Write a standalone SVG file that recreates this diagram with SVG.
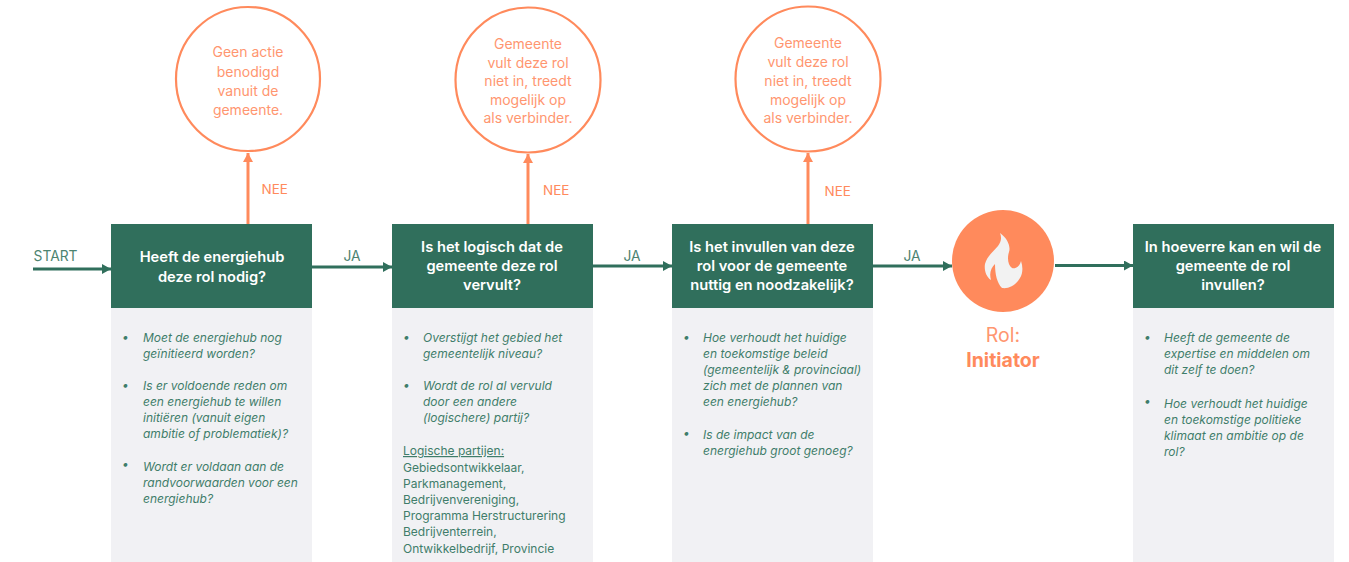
<svg xmlns="http://www.w3.org/2000/svg" width="1349" height="562" viewBox="0 0 1349 562">
<style>
text{font-family:Inter,"Liberation Sans",sans-serif}
.hd{fill:#306f5c}.bd{fill:#f1f1f4}
.ht{fill:#fff;font-size:14.700px;font-weight:600;text-anchor:middle}
.q{fill:#3f7d6a;font-size:12px;font-style:italic}
.b{fill:#3f7d6a;font-size:12px}
.l{fill:#4c8370;font-size:13.800px;text-anchor:middle}
.nee{fill:#ff8a5c;font-size:13.500px}
.c{fill:#fff;stroke:#ff8a5c;stroke-width:2.2}
.ct{fill:#ff9670;font-size:14px;text-anchor:middle}
.g{stroke:#306f5c;stroke-width:3;fill:none;marker-end:url(#ga)}
.o{stroke:#ff8a5c;stroke-width:3;fill:none;marker-end:url(#oa)}
</style>
<defs>
<marker id="ga" markerUnits="userSpaceOnUse" markerWidth="10" markerHeight="12" refX="9" refY="5" orient="auto"><path d="M0 0L9 5L0 10Z" fill="#306f5c"/></marker>
<marker id="oa" markerUnits="userSpaceOnUse" markerWidth="10" markerHeight="12" refX="9" refY="5" orient="auto"><path d="M0 0L9 5L0 10Z" fill="#ff8a5c"/></marker>
</defs>
<g id="connectors">
<path class="g" d="M33 269H111"/>
<path class="g" d="M312 267H392"/>
<path class="g" d="M593 266H672"/>
<path class="g" d="M873 266H952"/>
<path class="g" d="M1055 265.500H1133"/>
<path class="o" d="M248 224V153"/>
<path class="o" d="M528 224V154"/>
<path class="o" d="M808 224V153"/>
</g>
<g id="labels">
<text class="l" x="55.500" y="260.500">START</text>
<text class="l" x="352" y="261">JA</text>
<text class="l" x="632" y="261">JA</text>
<text class="l" x="912" y="261">JA</text>
<text class="nee" x="261.500" y="194">NEE</text>
<text class="nee" x="543" y="195">NEE</text>
<text class="nee" x="824.500" y="196">NEE</text>
</g>
<g id="node-q1">
<rect class="bd" x="111" y="308" width="201" height="254"/><rect class="hd" x="111" y="224" width="201" height="84"/>
<text class="ht"><tspan x="212" y="262">Heeft de energiehub</tspan><tspan x="212" y="282">deze rol nodig?</tspan></text>
<text class="q" x="122" y="341">•</text>
<text class="q"><tspan x="143" y="342">Moet de energiehub nog</tspan><tspan x="143" y="358">geïnitieerd worden?</tspan></text>
<text class="q" x="122" y="389">•</text>
<text class="q"><tspan x="143" y="390">Is er voldoende reden om</tspan><tspan x="143" y="406">een energiehub te willen</tspan><tspan x="143" y="422">initiëren (vanuit eigen</tspan><tspan x="143" y="438">ambitie of problematiek)?</tspan></text>
<text class="q" x="122" y="468">•</text>
<text class="q"><tspan x="143" y="471">Wordt er voldaan aan de</tspan><tspan x="143" y="487">randvoorwaarden voor een</tspan><tspan x="143" y="503">energiehub?</tspan></text>
</g>
<g id="node-q2">
<rect class="bd" x="392" y="308" width="201" height="254"/><rect class="hd" x="392" y="224" width="201" height="84"/>
<text class="ht"><tspan x="492" y="252">Is het logisch dat de</tspan><tspan x="492" y="271">gemeente deze rol</tspan><tspan x="492" y="290">vervult?</tspan></text>
<text class="q" x="403" y="341">•</text>
<text class="q"><tspan x="423" y="342">Overstijgt het gebied het</tspan><tspan x="423" y="358">gemeentelijk niveau?</tspan></text>
<text class="q" x="403" y="389">•</text>
<text class="q"><tspan x="423" y="390">Wordt de rol al vervuld</tspan><tspan x="423" y="406">door een andere</tspan><tspan x="423" y="422">(logischere) partij?</tspan></text>
<text class="b" x="403" y="455" text-decoration="underline">Logische partijen:</text>
<text class="b"><tspan x="403" y="472">Gebiedsontwikkelaar,</tspan><tspan x="403" y="488">Parkmanagement,</tspan><tspan x="403" y="504">Bedrijvenvereniging,</tspan><tspan x="403" y="520">Programma Herstructurering</tspan><tspan x="403" y="536">Bedrijventerrein,</tspan><tspan x="403" y="553">Ontwikkelbedrijf, Provincie</tspan></text>
</g>
<g id="node-q3">
<rect class="bd" x="672" y="308" width="201" height="254"/><rect class="hd" x="672" y="224" width="201" height="84"/>
<text class="ht"><tspan x="772" y="252">Is het invullen van deze</tspan><tspan x="772" y="271">rol voor de gemeente</tspan><tspan x="772" y="290">nuttig en noodzakelijk?</tspan></text>
<text class="q" x="683" y="341">•</text>
<text class="q"><tspan x="703" y="342">Hoe verhoudt het huidige</tspan><tspan x="703" y="358">en toekomstige beleid</tspan><tspan x="703" y="374">(gemeentelijk &amp; provinciaal)</tspan><tspan x="703" y="390">zich met de plannen van</tspan><tspan x="703" y="406">een energiehub?</tspan></text>
<text class="q" x="683" y="437">•</text>
<text class="q"><tspan x="703" y="439">Is de impact van de</tspan><tspan x="703" y="455">energiehub groot genoeg?</tspan></text>
</g>
<g id="node-q4">
<rect class="bd" x="1133" y="308" width="201" height="254"/><rect class="hd" x="1133" y="224" width="201" height="84"/>
<text class="ht"><tspan x="1233" y="252">In hoeverre kan en wil de</tspan><tspan x="1233" y="271">gemeente de rol</tspan><tspan x="1233" y="290">invullen?</tspan></text>
<text class="q" x="1144" y="341">•</text>
<text class="q"><tspan x="1164" y="342">Heeft de gemeente de</tspan><tspan x="1164" y="358">expertise en middelen om</tspan><tspan x="1164" y="374">dit zelf te doen?</tspan></text>
<text class="q" x="1144" y="405">•</text>
<text class="q"><tspan x="1164" y="408">Hoe verhoudt het huidige</tspan><tspan x="1164" y="424">en toekomstige politieke</tspan><tspan x="1164" y="440">klimaat en ambitie op de</tspan><tspan x="1164" y="456">rol?</tspan></text>
</g>
<g id="node-nee1">
<circle class="c" cx="248" cy="79" r="72"/>
<text class="ct"><tspan x="248" y="57">Geen actie</tspan><tspan x="248" y="77">benodigd</tspan><tspan x="248" y="96">vanuit de</tspan><tspan x="248" y="115">gemeente.</tspan></text>
</g>
<g id="node-nee2">
<circle class="c" cx="528" cy="80" r="72.500"/>
<text class="ct"><tspan x="528" y="49">Gemeente</tspan><tspan x="528" y="68">vult deze rol</tspan><tspan x="528" y="86">niet in, treedt</tspan><tspan x="528" y="105">mogelijk op</tspan><tspan x="528" y="123">als verbinder.</tspan></text>
</g>
<g id="node-nee3">
<circle class="c" cx="808" cy="79" r="72.500"/>
<text class="ct"><tspan x="808" y="48">Gemeente</tspan><tspan x="808" y="67">vult deze rol</tspan><tspan x="808" y="86">niet in, treedt</tspan><tspan x="808" y="105">mogelijk op</tspan><tspan x="808" y="123">als verbinder.</tspan></text>
</g>
<g id="node-role">
<circle cx="1003" cy="261" r="51" fill="#ff8a5c"/>
<path d="M1000 233C1007 238 1011 246 1009 252C1007 258 1008 265 1012 268C1016 269 1020 266 1021 261C1023 267 1023 273 1020 278C1016 285 1009 289 1002 288C997 283 995 274 995 264C991 268 989 273 991 280C986 277 984 270 985 264C987 256 994 251 998 246C1001 242 1002 238 1000 233Z" fill="#f2f2f2"/>
<text x="1003" y="342" text-anchor="middle" font-size="19.500" fill="#ff9670">Rol:</text>
<text x="1003" y="367" text-anchor="middle" font-size="19.500" font-weight="700" fill="#ff8a5c">Initiator</text>
</g>
</svg>
